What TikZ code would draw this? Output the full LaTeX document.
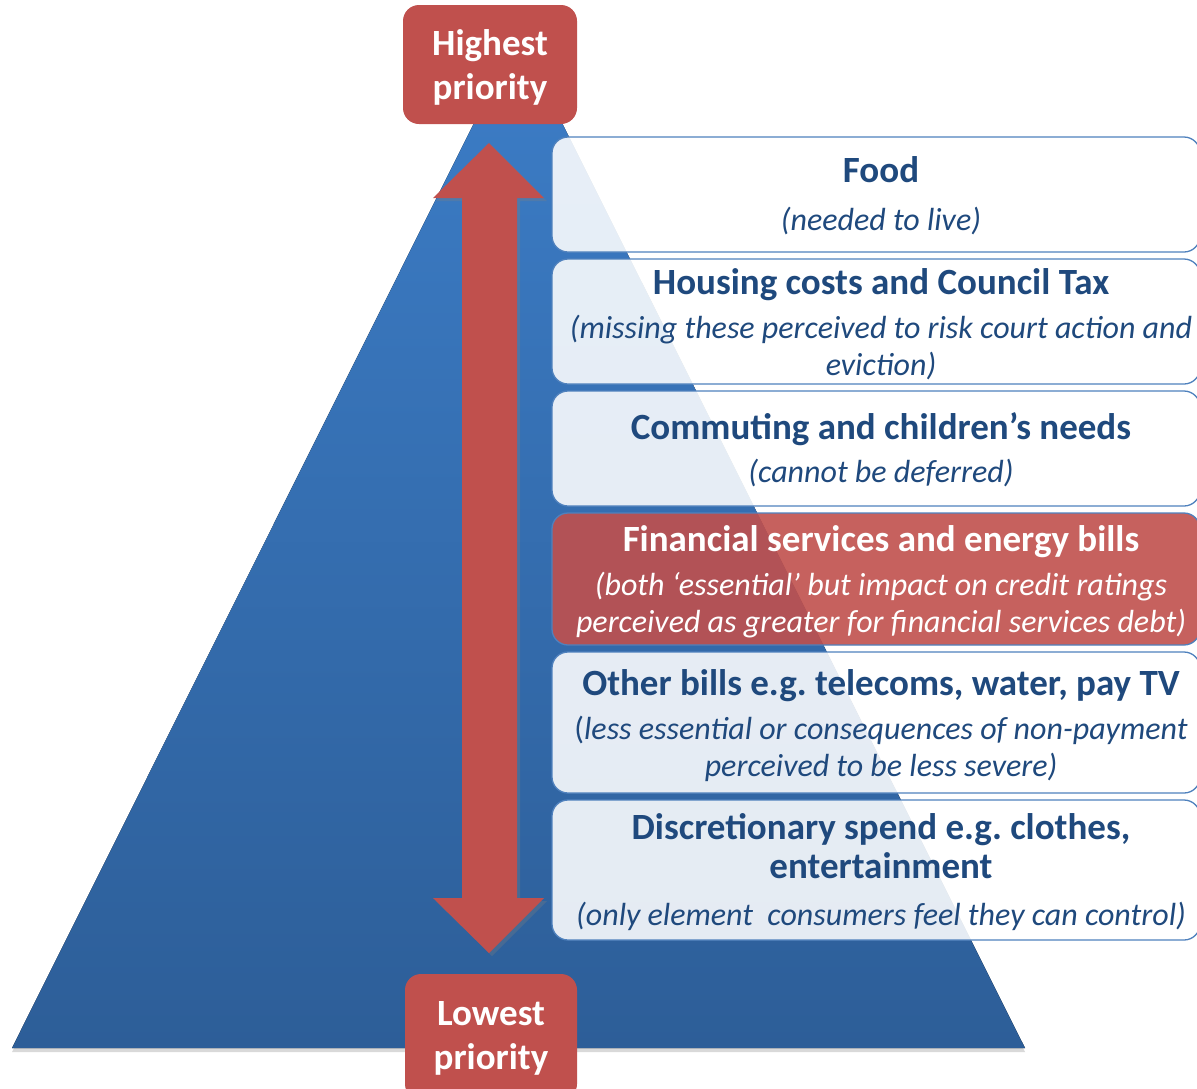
\documentclass[tikz,border=0pt]{standalone}
\usepackage{fontspec}
\setmainfont{Carlito}
\usetikzlibrary{shadows}
\frenchspacing

\definecolor{prioRed}{HTML}{C0504D}
\definecolor{inkBlue}{HTML}{1F497D}
\definecolor{edgeBlue}{HTML}{4F81BD}
\definecolor{pyrTop}{RGB}{60,125,199}
\definecolor{pyrBot}{RGB}{45,94,152}

\newcommand\tierhead[1]{{\fontsize{37}{37}\selectfont\bfseries\upshape #1}}

\begin{document}
\begin{tikzpicture}[x=1pt,y=-1pt,
  tierbox/.style={rectangle, rounded corners=16pt, draw=edgeBlue, line width=1.3pt,
    fill=white, fill opacity=0.88, minimum width=648pt, inner sep=0pt},
  redbox/.style={tierbox, fill=prioRed, fill opacity=0.9},
  tiertext/.style={align=center, inner sep=0pt, text=inkBlue,
    font=\fontsize{32}{37}\selectfont\itshape},
  prio/.style={rectangle, rounded corners=16pt, fill=prioRed, inner sep=0pt},
  priotext/.style={text=white, align=center, inner sep=0pt,
    font=\fontsize{37}{44}\selectfont\bfseries}]

\useasboundingbox (0,0) rectangle (1197,1088);

% pyramid
\coordinate (apex) at (518,35);
\coordinate (baseR) at (1025,1048);
\coordinate (baseL) at (12,1048);
\fill[top color=pyrTop, bottom color=pyrBot,
  drop shadow={shadow xshift=0pt, shadow yshift=-4pt, opacity=0.3}]
  (apex) -- (baseR) -- (baseL) -- cycle;

% two-headed priority arrow
\fill[prioRed, drop shadow={shadow xshift=3pt, shadow yshift=-3pt, opacity=0.3}]
  (489,143) -- (544,198) -- (517,198) -- (517,898) -- (544,898) -- (489,953)
  -- (433,898) -- (462,898) -- (462,198) -- (433,198) -- cycle;

% tiers
\node[tierbox, minimum height=115pt] (food)    at (876,194.5) {};
\node[tierbox, minimum height=125pt] (housing) at (876,321.5) {};
\node[tierbox, minimum height=115pt] (commute) at (876,448.5) {};
\node[redbox,  minimum height=132pt] (finance) at (876,579) {};
\node[tierbox, minimum height=141pt] (other)   at (876,722.5) {};
\node[tierbox, minimum height=140pt] (discret) at (876,870) {};

\node[tiertext] (foodT) at ([xshift=5pt,yshift=-1pt]food.center)
  {\tierhead{Food}\\[11pt](needed to live)};
\node[tiertext] (housingT) at ([xshift=5pt,yshift=-3pt]housing.center)
  {\tierhead{Housing costs and Council Tax}\\[7pt](missing these perceived to risk court action and\\eviction)};
\node[tiertext] (commuteT) at ([xshift=5pt,yshift=-1pt]commute.center)
  {\tierhead{Commuting and children’s needs}\\[6pt](cannot be deferred)};
\node[tiertext, text=white] (financeT) at ([xshift=5pt,yshift=-3pt]finance.center)
  {\tierhead{Financial services and energy bills}\\[7pt](both ‘essential’ but impact on credit ratings\\perceived as greater for financial services debt)};
\node[tiertext] (otherT) at ([xshift=5pt,yshift=-3pt]other.center)
  {\tierhead{Other bills e.g. telecoms, water, pay TV}\\[7pt]\textup{(}less essential or consequences of non-payment\\perceived to be less severe)};
\node[tiertext] (discretT) at ([xshift=5pt,yshift=-2pt]discret.center)
  {\tierhead{Discretionary spend e.g. clothes,}\\[2pt]\tierhead{entertainment}\\[10pt](only element\ \ consumers feel they can control)};

% priority labels
\node[prio, minimum width=174pt, minimum height=119pt] (high) at (490,64.5) {};
\node[priotext] (highT) at ([yshift=-3pt]high.center) {Highest\\priority};
\node[prio, minimum width=172pt, minimum height=126pt] (low) at (491,1037) {};
\node[priotext] (lowT) at ([yshift=-1pt]low.center) {Lowest\\priority};

\end{tikzpicture}
\end{document}
